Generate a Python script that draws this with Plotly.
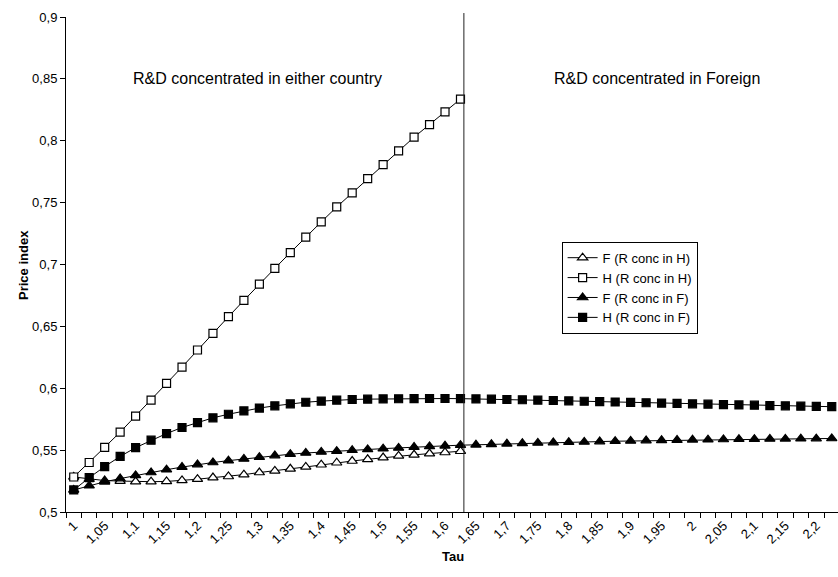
import plotly.graph_objects as go

tau = [1.0, 1.025, 1.05, 1.075, 1.1, 1.125, 1.15, 1.175, 1.2, 1.225,
       1.25, 1.275, 1.3, 1.325, 1.35, 1.375, 1.4, 1.425, 1.45, 1.475,
       1.5, 1.525, 1.55, 1.575, 1.6, 1.625, 1.65, 1.675, 1.7, 1.725,
       1.75, 1.775, 1.8, 1.825, 1.85, 1.875, 1.9, 1.925, 1.95, 1.975,
       2.0, 2.025, 2.05, 2.075, 2.1, 2.125, 2.15, 2.175, 2.2, 2.225]

tick_vals = [1.0, 1.05, 1.1, 1.15, 1.2, 1.25, 1.3, 1.35, 1.4, 1.45, 1.5, 1.55,
             1.6, 1.65, 1.7, 1.75, 1.8, 1.85, 1.9, 1.95, 2.0, 2.05, 2.1, 2.15, 2.2]
tick_text = ["1", "1,05", "1,1", "1,15", "1,2", "1,25", "1,3", "1,35", "1,4", "1,45",
             "1,5", "1,55", "1,6", "1,65", "1,7", "1,75", "1,8", "1,85", "1,9", "1,95",
             "2", "2,05", "2,1", "2,15", "2,2"]

y_tick_vals = [0.5, 0.55, 0.6, 0.65, 0.7, 0.75, 0.8, 0.85, 0.9]
y_tick_text = ["0,5", "0,55", "0,6", "0,65", "0,7", "0,75", "0,8", "0,85", "0,9"]

# R&D concentrated in Home (defined up to tau = 1.625)
f_conc_h = [0.5283, 0.5266, 0.5254, 0.5250, 0.5246, 0.5245, 0.5247, 0.5255, 0.5265, 0.5278,
            0.5287, 0.5302, 0.5319, 0.5332, 0.5349, 0.5364, 0.5382, 0.5398, 0.5412, 0.5426,
            0.5440, 0.5453, 0.5462, 0.5472, 0.5481, 0.5491]
h_conc_h = [0.5283, 0.5400, 0.5523, 0.5645, 0.5774, 0.5904, 0.6039, 0.6171, 0.6309, 0.6443,
            0.6578, 0.6710, 0.6842, 0.6969, 0.7096, 0.7222, 0.7344, 0.7465, 0.7578, 0.7694,
            0.7807, 0.7918, 0.8029, 0.8131, 0.8234, 0.8337]

# R&D concentrated in Foreign
f_conc_f = [0.5178, 0.5213, 0.5244, 0.5270, 0.5296, 0.5319, 0.5342, 0.5363, 0.5383, 0.5400,
            0.5415, 0.5429, 0.5443, 0.5456, 0.5467, 0.5477, 0.5485, 0.5492, 0.5499, 0.5506,
            0.5512, 0.5518, 0.5525, 0.5530, 0.5535, 0.5540, 0.5543, 0.5547, 0.5551, 0.5555,
            0.5558, 0.5561, 0.5564, 0.5566, 0.5569, 0.5572, 0.5574, 0.5577, 0.5579, 0.5581,
            0.5583, 0.5584, 0.5586, 0.5588, 0.5589, 0.5590, 0.5591, 0.5592, 0.5593, 0.5594]
h_conc_f = [0.5178, 0.5277, 0.5367, 0.5449, 0.5520, 0.5580, 0.5634, 0.5683, 0.5723, 0.5761,
            0.5790, 0.5817, 0.5840, 0.5858, 0.5874, 0.5887, 0.5896, 0.5904, 0.5909, 0.5912,
            0.5914, 0.5915, 0.5916, 0.5917, 0.5917, 0.5916, 0.5914, 0.5912, 0.5909, 0.5907,
            0.5904, 0.5901, 0.5898, 0.5895, 0.5892, 0.5889, 0.5886, 0.5883, 0.5880, 0.5877,
            0.5874, 0.5871, 0.5868, 0.5865, 0.5863, 0.5860, 0.5858, 0.5855, 0.5853, 0.5851]

series_names = ["F (R conc in H)", "H (R conc in H)", "F (R conc in F)", "H (R conc in F)"]
regime_split = 1.6305
region_labels = ["R&D concentrated in either country", "R&D concentrated in Foreign"]

FONT = "Liberation Sans, Arial, sans-serif"

fig = go.Figure()

def add(yvals, name, symbol, filled, size):
    fig.add_trace(go.Scatter(
        x=tau[:len(yvals)], y=yvals, name=name, mode="lines+markers",
        line=dict(color="black", width=1),
        marker=dict(symbol=symbol, size=size,
                    color="black" if filled else "white",
                    line=dict(color="black", width=1.2)),
    ))

add(f_conc_h, series_names[0], "triangle-up", False, 9)
add(h_conc_h, series_names[1], "square", False, 8)
add(f_conc_f, series_names[2], "triangle-up", True, 9)
add(h_conc_f, series_names[3], "square", True, 8)

fig.add_shape(type="line", xref="x", yref="paper",
              x0=regime_split, x1=regime_split, y0=0, y1=1.008,
              line=dict(color="#222222", width=1))

fig.add_annotation(x=1.2975, y=0.85, xref="x", yref="y", text=region_labels[0],
                   showarrow=False, font=dict(family=FONT, size=16, color="black"))
fig.add_annotation(x=1.943, y=0.85, xref="x", yref="y", text=region_labels[1],
                   showarrow=False, font=dict(family=FONT, size=16, color="black"))

fig.add_annotation(x=-0.0674, y=0.5, xref="paper", yref="paper", text="<b>Price index</b>",
                   textangle=-90, showarrow=False, font=dict(family=FONT, size=13, color="black"))
fig.add_annotation(x=0.5009, y=-0.109, xref="paper", yref="paper", text="<b>Tau</b>",
                   showarrow=False, font=dict(family=FONT, size=13, color="black"))

fig.update_layout(
    width=838, height=577,
    margin=dict(l=66, r=0, t=17, b=65),
    paper_bgcolor="white", plot_bgcolor="white",
    font=dict(family=FONT, size=13, color="black"),
    showlegend=True,
    legend=dict(x=0.642, y=0.546, xanchor="left", yanchor="top",
                bgcolor="white", bordercolor="black", borderwidth=1,
                font=dict(family=FONT, size=13, color="black"),
                tracegroupgap=0, itemwidth=30),
    xaxis=dict(type="linear", range=[0.9875, 2.2351],
               tickmode="array", tickvals=tick_vals, ticktext=tick_text,
               tickangle=-45, ticks="", showgrid=False, zeroline=False,
               showline=True, linecolor="black", linewidth=1,
               tickfont=dict(family=FONT, size=13, color="black"),
               minor=dict(ticks="outside", ticklen=5, tickcolor="black",
                          tick0=0.9875, dtick=0.025, showgrid=False)),
    yaxis=dict(range=[0.5, 0.9], tickmode="array", tickvals=y_tick_vals, ticktext=y_tick_text,
               ticks="outside", ticklen=5, tickcolor="black",
               showgrid=False, zeroline=False,
               showline=True, linecolor="black", linewidth=1,
               tickfont=dict(family=FONT, size=13, color="black")),
)

fig.write_html("out.html")
